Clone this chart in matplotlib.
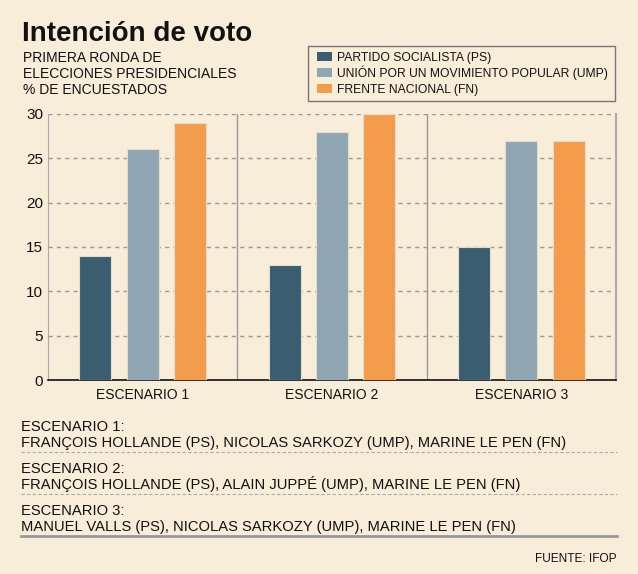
import matplotlib.pyplot as plt
from matplotlib.patches import Rectangle
import numpy as np

escenarios = ['ESCENARIO 1', 'ESCENARIO 2', 'ESCENARIO 3']
partidos = ['PARTIDO SOCIALISTA (PS)', 'UNIÓN POR UN MOVIMIENTO POPULAR (UMP)', 'FRENTE NACIONAL (FN)']
ps = [14, 13, 15]
ump = [26, 28, 27]
fn = [29, 30, 27]
colores = ['#3a5e70', '#8fa5b2', '#f39c4b']
notas = [
    ('ESCENARIO 1:', 'FRANÇOIS HOLLANDE (PS), NICOLAS SARKOZY (UMP), MARINE LE PEN (FN)'),
    ('ESCENARIO 2:', 'FRANÇOIS HOLLANDE (PS), ALAIN JUPPÉ (UMP), MARINE LE PEN (FN)'),
    ('ESCENARIO 3:', 'MANUEL VALLS (PS), NICOLAS SARKOZY (UMP), MARINE LE PEN (FN)'),
]

bg = '#f8edd9'
W, H = 638, 574
plt.rcParams['font.family'] = ['Liberation Sans', 'DejaVu Sans']
fig = plt.figure(figsize=(W / 100, H / 100), dpi=100, facecolor=bg)

# pixel helpers (from top-left corner)
def fx(px):
    return px / W

def fy(py):
    return 1 - py / H

# plot area: x 48..616, y 114..380
ax = fig.add_axes([fx(48), fy(380), fx(616 - 48), (380 - 114) / H])
ax.set_facecolor(bg)

x = np.arange(len(escenarios))
width = 0.17
offset = 0.25
for i, serie in enumerate([ps, ump, fn]):
    ax.bar(x + (i - 1) * offset, serie, width, color=colores[i],
           edgecolor='#e6dccb', linewidth=0.8, zorder=3)

ax.set_xlim(-0.5, 2.5)
ax.set_ylim(0, 30)
ax.set_yticks(range(0, 31, 5))
ax.set_xticks(x)
ax.set_xticklabels(escenarios, fontsize=10)
ax.tick_params(axis='x', length=0, colors='#111111', pad=6)
ax.tick_params(axis='y', length=0, colors='#111111', pad=3.5, labelsize=11)
for yv in range(5, 31, 5):
    ax.axhline(yv, color='#999999', linestyle=(0, (3, 3)), linewidth=1, zorder=1)
for xv in [0.5, 1.5]:
    ax.axvline(xv, color='#999999', linewidth=1, zorder=1)
ax.spines['top'].set_visible(False)
ax.spines['left'].set_color('#aaaaaa')
ax.spines['right'].set_color('#aaaaaa')
ax.spines['right'].set_linewidth(1.5)
ax.spines['bottom'].set_color('#111111')
ax.spines['bottom'].set_linewidth(1.2)

# titles
fig.text(fx(22), fy(41), 'Intención de voto', fontsize=20, fontweight='bold',
         color='#111111', va='baseline')
for k, line in enumerate(['PRIMERA RONDA DE', 'ELECCIONES PRESIDENCIALES', '% DE ENCUESTADOS']):
    fig.text(fx(23), fy(62.5 + k * 16), line, fontsize=10, color='#111111', va='baseline')

# legend box drawn by hand
fig.add_artist(Rectangle((fx(308), fy(101)), fx(615 - 308), (101 - 46) / H,
                         facecolor=bg, edgecolor='#777777', linewidth=1,
                         transform=fig.transFigure))
for i, nombre in enumerate(partidos):
    yb = 61.3 + i * 16
    fig.add_artist(Rectangle((fx(317), fy(yb)), fx(15), 9.5 / H,
                             facecolor=colores[i], edgecolor='none',
                             transform=fig.transFigure))
    fig.text(fx(337), fy(yb), nombre, fontsize=8.7, color='#111111', va='baseline')

# scenario notes
for k, (head, body) in enumerate(notas):
    y0 = 431 + k * 42
    fig.text(fx(21), fy(y0), head, fontsize=10.6, color='#111111', va='baseline')
    fig.text(fx(21), fy(y0 + 16), body, fontsize=10.6, color='#111111', va='baseline')
for yl in [452, 494]:
    fig.add_artist(plt.Line2D([fx(21), fx(617)], [fy(yl), fy(yl)], color='#aaaaaa',
                              linestyle=(0, (3, 2)), linewidth=0.8))
fig.add_artist(plt.Line2D([fx(21), fx(617)], [fy(536), fy(536)], color='#999999',
                          linewidth=2))
fig.text(fx(617), fy(562), 'FUENTE: IFOP', fontsize=8.6, color='#111111',
         ha='right', va='baseline')

fig.savefig('out.png', dpi=100, facecolor=bg)
